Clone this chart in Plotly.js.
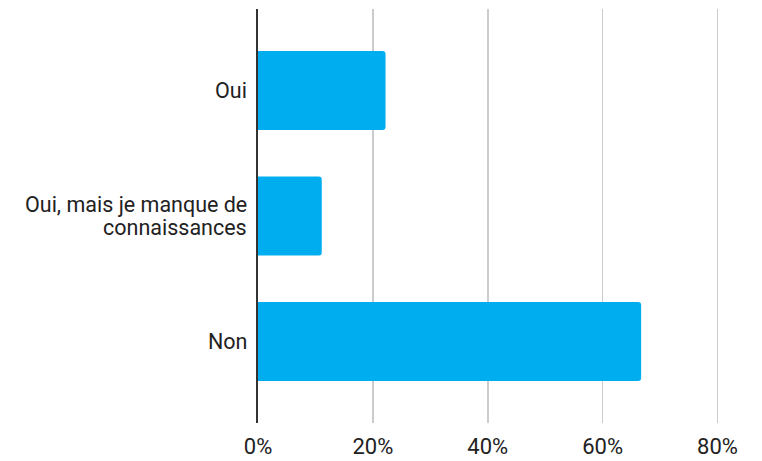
<!DOCTYPE html>
<html>
<head>
<meta charset="utf-8">
<script src="https://cdn.plot.ly/plotly-3.0.1.min.js"></script>
<style>html,body{margin:0;padding:0;background:#fff;}#chart{width:762px;height:461px;}</style>
</head>
<body>
<div id="chart"></div>
<script>
const categories = ['Oui', 'Oui, mais je manque de connaissances', 'Non'];
const labelLines = [['Oui'], ['Oui, mais je manque de', 'connaissances'], ['Non']];
const values = [22.2, 11.1, 66.7];
const tickValues = [0, 20, 40, 60, 80];
const tickLabels = ['0%', '20%', '40%', '60%', '80%'];

const trace = {
  type: 'bar',
  orientation: 'h',
  y: categories,
  x: values,
  width: 0.63,
  marker: { color: '#00AEEF', cornerradius: 3 },
  hoverinfo: 'none'
};

const lineGap = 23.3;
const annotations = [];
categories.forEach((cat, i) => {
  const lines = labelLines[i];
  lines.forEach((txt, j) => {
    annotations.push({
      xref: 'x', yref: 'y', x: 0, y: cat,
      text: txt, showarrow: false,
      xanchor: 'right', yanchor: 'middle',
      xshift: -9,
      yshift: -((j - (lines.length - 1) / 2) * lineGap),
      font: { family: 'Roboto, sans-serif', size: 21.5, color: '#222222' }
    });
  });
});

const layout = {
  width: 762,
  height: 461,
  margin: { l: 258, r: 0, t: 9, b: 38 },
  paper_bgcolor: '#ffffff',
  plot_bgcolor: '#ffffff',
  font: { family: 'Roboto, sans-serif', color: '#222222' },
  showlegend: false,
  annotations: annotations,
  xaxis: {
    range: [0, 87.74],
    tickvals: tickValues,
    ticktext: tickLabels,
    tickfont: { size: 22, color: '#222222' },
    showgrid: true,
    gridcolor: '#cccccc',
    gridwidth: 1.5,
    zeroline: false,
    showline: false,
    ticks: 'outside',
    ticklen: 4,
    tickcolor: 'rgba(0,0,0,0)',
    fixedrange: true
  },
  yaxis: {
    type: 'category',
    range: [2.65, -0.65],
    showticklabels: false,
    showgrid: false,
    zeroline: false,
    showline: true,
    linecolor: '#333333',
    linewidth: 2,
    ticks: '',
    fixedrange: true
  }
};

Plotly.newPlot('chart', [trace], layout, { displayModeBar: false, staticPlot: true });
</script>
</body>
</html>
